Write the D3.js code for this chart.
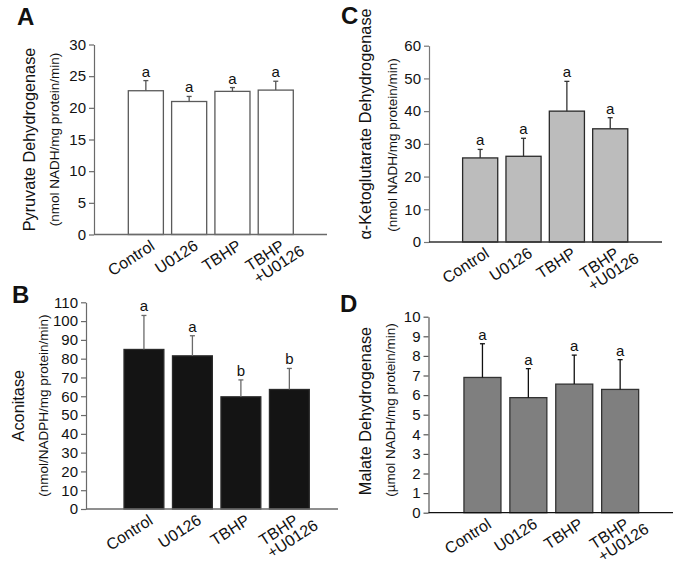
<!DOCTYPE html>
<html><head><meta charset="utf-8">
<script src="https://cdn.jsdelivr.net/npm/d3@7"></script>
<style>
html,body{margin:0;padding:0;background:#fff;}
svg{display:block;font-family:"Liberation Sans",Arial,Helvetica,sans-serif;}
</style></head>
<body>
<svg id="chart" width="679" height="569"></svg>
<script>
// ---- data ----
const categories = ["Control", "U0126", "TBHP", "TBHP\n+U0126"];

const pdhMean = [22.7, 21.0, 22.6, 22.8];
const pdhErr  = [1.6, 0.8, 0.6, 1.4];
const pdhSig  = ["a", "a", "a", "a"];
const pdhTicks = [0, 5, 10, 15, 20, 25, 30];

const aconMean = [84.9, 81.5, 59.7, 63.6];
const aconErr  = [18.1, 10.7, 9.0, 11.2];
const aconSig  = ["a", "a", "b", "b"];
const aconTicks = [0, 10, 20, 30, 40, 50, 60, 70, 80, 90, 100, 110];

const kgdhMean = [25.7, 26.2, 40.0, 34.6];
const kgdhErr  = [2.6, 5.5, 9.1, 3.4];
const kgdhSig  = ["a", "a", "a", "a"];
const kgdhTicks = [0, 10, 20, 30, 40, 50, 60];

const mdhMean = [6.90, 5.87, 6.56, 6.29];
const mdhErr  = [1.72, 1.48, 1.48, 1.52];
const mdhSig  = ["a", "a", "a", "a"];
const mdhTicks = [0, 1, 2, 3, 4, 5, 6, 7, 8, 9, 10];

// ---- panel layout ----
const panels = [
  {letter:"A", lx:17, ly:25, mean:pdhMean, err:pdhErr, sig:pdhSig, ticks:pdhTicks,
   title:"Pyruvate Dehydrogenase", sub:"(nmol NADH/mg protein/min)",
   axisX:94, axisEnd:327, y0:234.5, y1:44.5, bandL:124.2, bandR:297.4, pad:0.19,
   fill:"#ffffff", stroke:"#5a5a5a", errCol:"#555", yAxisCol:"#6a6a6a", xAxisCol:"#6a6a6a",
   titleX:35, titleY:null, subX:59, subY:null},
  {letter:"B", lx:12, ly:303, mean:aconMean, err:aconErr, sig:aconSig, ticks:aconTicks,
   title:"Aconitase", sub:"(nmol/NADPH/mg protein/min)",
   axisX:86, axisEnd:338, y0:509, y1:302.3, bandL:119.7, bandR:313.6, pad:0.178,
   fill:"#141414", stroke:"#2a2a2a", errCol:"#6a6a6a", yAxisCol:"#6a6a6a", xAxisCol:"#6a6a6a",
   titleX:24, titleY:null, subX:48, subY:null},
  {letter:"C", lx:341, ly:24, mean:kgdhMean, err:kgdhErr, sig:kgdhSig, ticks:kgdhTicks,
   title:"\u03B1-Ketoglutarate Dehydrogenase", sub:"(nmol NADH/mg protein/min)",
   axisX:429, axisEnd:662, y0:242, y1:45.7, bandL:458.5, bandR:631.9, pad:0.19,
   fill:"#bcbcbc", stroke:"#2a2a2a", errCol:"#333", yAxisCol:"#777", xAxisCol:"#333",
   titleX:371, titleY:124, subX:397, subY:145},
  {letter:"D", lx:340, ly:312, mean:mdhMean, err:mdhErr, sig:mdhSig, ticks:mdhTicks,
   title:"Malate Dehydrogenase", sub:"(\u00B5mol NADH/mg protein/min)",
   axisX:428.5, axisEnd:673, y0:512.7, y1:316.7, bandL:459.5, bandR:643.1, pad:0.194,
   fill:"#7f7f7f", stroke:"#333", errCol:"#111", yAxisCol:"#555", xAxisCol:"#111",
   titleX:371, titleY:411, subX:395, subY:410}
];

const svg = d3.select("#chart");

panels.forEach(p => {
  const g = svg.append("g");
  const tmax = p.ticks[p.ticks.length - 1];
  const y = d3.scaleLinear().domain([0, tmax]).range([p.y0, p.y1]);
  const x = d3.scaleBand().domain(categories).range([p.bandL, p.bandR])
              .paddingInner(p.pad).paddingOuter(p.pad / 2);

  // panel letter
  g.append("text").attr("x", p.lx).attr("y", p.ly)
    .attr("font-size", 24).attr("font-weight", "bold").attr("fill", "#111").text(p.letter);

  // y axis
  const yAxis = d3.axisLeft(y).tickValues(p.ticks).tickSize(5).tickPadding(3).tickSizeOuter(0);
  const ya = g.append("g").attr("transform", `translate(${p.axisX},0)`).call(yAxis);
  ya.select(".domain").attr("stroke", p.yAxisCol).attr("stroke-width", 1.2);
  ya.selectAll(".tick line").attr("stroke", p.yAxisCol).attr("stroke-width", 1.2);
  ya.selectAll(".tick text").attr("font-size", 15).attr("fill", "#111")
    .attr("font-family", '"Liberation Sans",Arial,sans-serif');

  // bars
  g.selectAll("rect.bar").data(p.mean).join("rect").attr("class", "bar")
    .attr("x", (d, i) => x(categories[i]))
    .attr("width", x.bandwidth())
    .attr("y", d => y(d))
    .attr("height", d => y(0) - y(d))
    .attr("fill", p.fill).attr("stroke", p.stroke).attr("stroke-width", 1.3);

  // error bars
  const cx = i => x(categories[i]) + x.bandwidth() / 2;
  const eg = g.append("g").attr("stroke", p.errCol).attr("stroke-width", 1.3);
  p.mean.forEach((m, i) => {
    eg.append("line").attr("x1", cx(i)).attr("x2", cx(i)).attr("y1", y(m)).attr("y2", y(m + p.err[i]));
    eg.append("line").attr("x1", cx(i) - 2.5).attr("x2", cx(i) + 2.5)
      .attr("y1", y(m + p.err[i])).attr("y2", y(m + p.err[i]));
  });

  // significance letters
  g.selectAll("text.sig").data(p.sig).join("text").attr("class", "sig")
    .attr("x", (d, i) => cx(i)).attr("y", (d, i) => y(p.mean[i] + p.err[i]) - 4)
    .attr("text-anchor", "middle").attr("font-size", 15).attr("fill", "#111").text(d => d);

  // x axis line
  g.append("line").attr("x1", p.axisX).attr("x2", p.axisEnd).attr("y1", p.y0).attr("y2", p.y0)
    .attr("stroke", p.xAxisCol).attr("stroke-width", 1.3);

  // x tick labels (rotated)
  categories.forEach((c, i) => {
    const lines = c.split("\n");
    const t = g.append("text")
      .attr("transform", `translate(${cx(i) + 10},${p.y0 + 14}) rotate(-33)`)
      .attr("font-size", 16).attr("fill", "#111").attr("text-anchor", "end");
    const t1 = t.append("tspan").attr("x", 0).attr("y", 0).text(lines[0]);
    if (lines.length > 1) {
      const w = t1.node().getComputedTextLength();
      t.append("tspan").attr("x", -w).attr("y", 15).attr("text-anchor", "start").text(lines[1]);
    }
  });

  // y titles
  const midY = (p.y0 + p.y1) / 2;
  g.append("text")
    .attr("transform", `translate(${p.titleX},${p.titleY == null ? midY : p.titleY}) rotate(-90)`)
    .attr("text-anchor", "middle").attr("font-size", 16.3).attr("fill", "#111").text(p.title);
  g.append("text")
    .attr("transform", `translate(${p.subX},${p.subY == null ? midY : p.subY}) rotate(-90)`)
    .attr("text-anchor", "middle").attr("font-size", 13.5).attr("fill", "#111").text(p.sub);
});
</script>
</body></html>
